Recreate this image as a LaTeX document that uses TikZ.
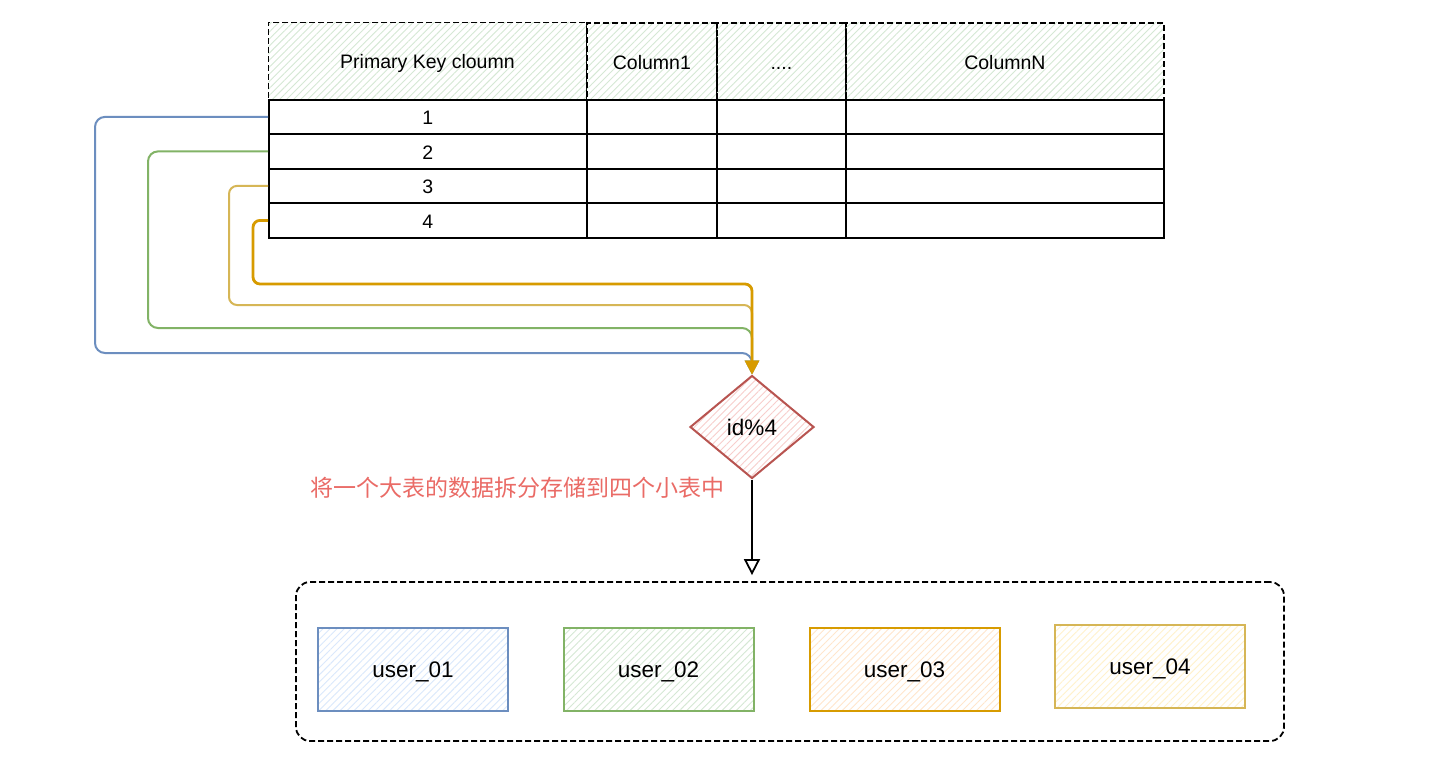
\documentclass[tikz,border=0pt]{standalone}
\usepackage{fontspec}
\setmainfont{Liberation Sans}
\newfontfamily\cjk{Noto Sans CJK SC}
\usetikzlibrary{shapes.geometric,arrows.meta,patterns.meta}
\definecolor{blueL}{HTML}{6C8EBF}\definecolor{blueF}{HTML}{DAE8FC}
\definecolor{greenL}{HTML}{82B366}\definecolor{greenF}{HTML}{D5E8D4}
\definecolor{orangeL}{HTML}{D79B00}\definecolor{orangeF}{HTML}{FFE6CC}
\definecolor{yellowL}{HTML}{D6B656}\definecolor{yellowF}{HTML}{FFF2CC}
\definecolor{redL}{HTML}{B85450}\definecolor{redF}{HTML}{F8CECC}
\definecolor{noteRed}{HTML}{EA6B66}

\begin{document}
\begin{tikzpicture}[x=1pt,y=-1pt,
  hatch/.style={pattern={Lines[angle=45,distance=5pt,line width=0.9pt]},pattern color=#1},
  head/.style={draw,dash pattern=on 6pt off 3pt,line width=1.8pt,hatch=greenF,inner sep=0,minimum height=77,text height=18,text depth=2,anchor=north west,font=\fontsize{19.5}{22}\selectfont},
  cell/.style={draw,line width=1.8pt,inner sep=0,minimum height=35,text height=18,text depth=2,anchor=north west,font=\fontsize{19.5}{22}\selectfont},
  conn/.style={line width=2pt,rounded corners=10,-{Triangle[length=14pt,width=14pt]}},
  usertab/.style={draw=#1L,line width=2pt,hatch=#1F,minimum width=190,minimum height=83,inner sep=0,text height=18,text depth=3,font=\fontsize{22.5}{25}\selectfont}]
\useasboundingbox (0,0) rectangle (1434,782);
\fill[white] (0,0) rectangle (1434,782);

% big table
\node[head,minimum width=318] (h0) at (268,22) {Primary Key cloumn};
\node[head,minimum width=130] (h1) at (586,22) {Column1};
\node[head,minimum width=129] (h2) at (716,22) {....};
\node[head,minimum width=318] (h3) at (845,22) {ColumnN};
\foreach \r/\y/\h in {1/99/34,2/133/35,3/168/34,4/202/35} {
  \node[cell,minimum width=318,minimum height=\h] (k\r) at (268,\y) {\r};
  \node[cell,minimum width=130,minimum height=\h] (a\r) at (586,\y) {};
  \node[cell,minimum width=129,minimum height=\h] (b\r) at (716,\y) {};
  \node[cell,minimum width=318,minimum height=\h] (c\r) at (845,\y) {};
}

% hash node
\node[diamond,draw=redL,line width=2pt,hatch=redF,minimum width=124,minimum height=103,inner sep=0,font=\fontsize{22.5}{25}\selectfont] (dia) at (752,427) {id\%4};

% routes from the rows
\coordinate (t1) at (95,353);
\coordinate (t2) at (148,328);
\coordinate (t3) at (229,305);
\coordinate (t4) at (253,284);
\draw[conn,blueL] (k1.west) -| (t1) -| (dia.north);
\draw[conn,greenL] (k2.west) -| (t2) -| (dia.north);
\draw[conn,yellowL,rounded corners=8] (k3.west) -| (t3) -| (dia.north);
\draw[conn,orangeL,line width=2.8pt,rounded corners=7] (k4.west) -| (t4) -| (dia.north);

\node[text=noteRed,font=\cjk\fontsize{23}{26}\selectfont] (note) at (517,488) {将一个大表的数据拆分存储到四个小表中};

% small tables
\node[draw,dash pattern=on 6pt off 3pt,line width=1.8pt,rounded corners=14,minimum width=988,minimum height=159] (grp) at (790,661.5) {};
\node[usertab=blue] (u1) at (413,669.5) {user\_01};
\node[usertab=green] (u2) at (658.5,669.5) {user\_02};
\node[usertab=orange] (u3) at (904.5,669.5) {user\_03};
\node[usertab=yellow] (u4) at (1150,666.5) {user\_04};

\draw[line width=1.8pt,shorten >=6pt,-{Triangle[open,length=16pt,width=16pt]}] (dia.south) -- (dia.south |- grp.north);
\end{tikzpicture}
\end{document}
